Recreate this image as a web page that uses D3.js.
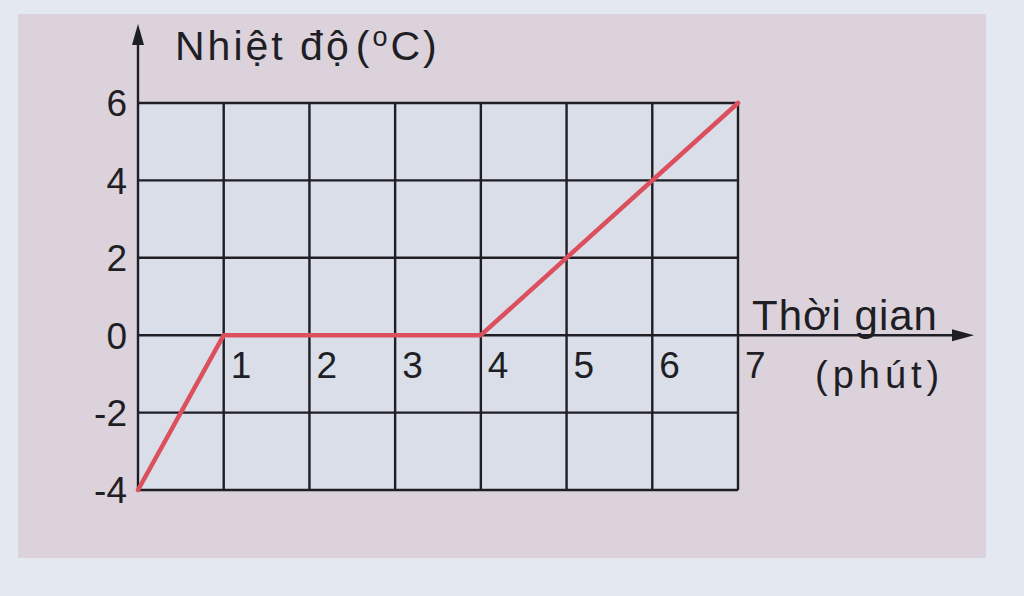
<!DOCTYPE html>
<html><head><meta charset="utf-8">
<script src="https://cdn.jsdelivr.net/npm/d3@7"></script>
<style>html,body{margin:0;padding:0;background:#e3e7ef;}svg{display:block}</style>
</head><body>
<svg id="c" width="1024" height="596"></svg>
<script>
const times = [0, 1, 4, 7];
const temps = [-4, 0, 0, 6];
const xTicks = [1, 2, 3, 4, 5, 6, 7];
const yTicks = [6, 4, 2, 0, -2, -4];
const yTitle = "Nhiệt độ";
const xTitle = "Thời gian";
const xUnit = "(phút)";

const svg = d3.select("#c");
const font = "Liberation Sans, Arial, sans-serif";
const ink = "#1e1e24";
// page + tinted panel
svg.append("rect").attr("x",0).attr("y",0).attr("width",1024).attr("height",596).attr("fill","#e4e8f0");
svg.append("rect").attr("x",18).attr("y",14).attr("width",968).attr("height",544).attr("fill","#dbd2dc");

const x = d3.scaleLinear().domain([0,7]).range([138,738]);
const y = d3.scaleLinear().domain([-4,6]).range([490,103]);

// grid background
svg.append("rect").attr("x",x(0)).attr("y",y(6)).attr("width",x(7)-x(0)).attr("height",y(-4)-y(6)).attr("fill","#d9dee9");

// grid lines
const g = svg.append("g").attr("stroke",ink).attr("stroke-width",2.4);
d3.range(0,8).forEach(v=>{
  g.append("line").attr("x1",x(v)).attr("x2",x(v)).attr("y1",y(6)).attr("y2",y(-4));
});
d3.range(-4,7,2).forEach(v=>{
  g.append("line").attr("x1",x(0)).attr("x2",x(7)).attr("y1",y(v)).attr("y2",y(v));
});

// y axis extension with arrow
svg.append("line").attr("x1",x(0)).attr("x2",x(0)).attr("y1",y(6)).attr("y2",40).attr("stroke",ink).attr("stroke-width",2.4);
svg.append("path").attr("d",`M${x(0)},24 L${x(0)-6},45 L${x(0)+6},45 Z`).attr("fill",ink);
// x axis extension with arrow
svg.append("line").attr("x1",x(7)).attr("x2",955).attr("y1",y(0)).attr("y2",y(0)).attr("stroke",ink).attr("stroke-width",2.4);
svg.append("path").attr("d",`M974,${y(0)} L952,${y(0)-6} L952,${y(0)+6} Z`).attr("fill",ink);

// y tick labels
svg.append("g").selectAll("text").data(yTicks).join("text")
  .attr("x",x(0)-11).attr("y",d=>y(d)).attr("dy","0.36em").attr("text-anchor","end")
  .attr("font-family",font).attr("font-size",37).attr("fill",ink)
  .text(d=>d);
// x tick labels
svg.append("g").selectAll("text").data(xTicks).join("text")
  .attr("x",d=>x(d)+7).attr("y",y(0)+43).attr("text-anchor","start")
  .attr("font-family",font).attr("font-size",37).attr("fill",ink)
  .text(d=>d);

// titles
const yt = svg.append("text").attr("x",175).attr("y",60).attr("font-family",font).attr("font-size",41).attr("letter-spacing",3).attr("fill",ink);
yt.append("tspan").text(yTitle);
yt.append("tspan").attr("dx",4).text("(");
yt.append("tspan").attr("dy",-14).attr("font-size",27).text("o");
yt.append("tspan").attr("dy",14).text("C)");
svg.append("text").attr("x",752).attr("y",330).attr("font-family",font).attr("font-size",42).attr("letter-spacing",1).attr("fill",ink).text(xTitle);
svg.append("text").attr("x",815).attr("y",388).attr("font-family",font).attr("font-size",38).attr("fill",ink).attr("letter-spacing",5).text(xUnit);

// data line
const line = d3.line().x((d,i)=>x(times[i])).y((d,i)=>y(temps[i]));
svg.append("path").datum(temps).attr("d",line).attr("fill","none")
  .attr("stroke","#dc4f5c").attr("stroke-width",4.5).attr("stroke-linejoin","round").attr("stroke-linecap","round");
</script>
</body></html>
